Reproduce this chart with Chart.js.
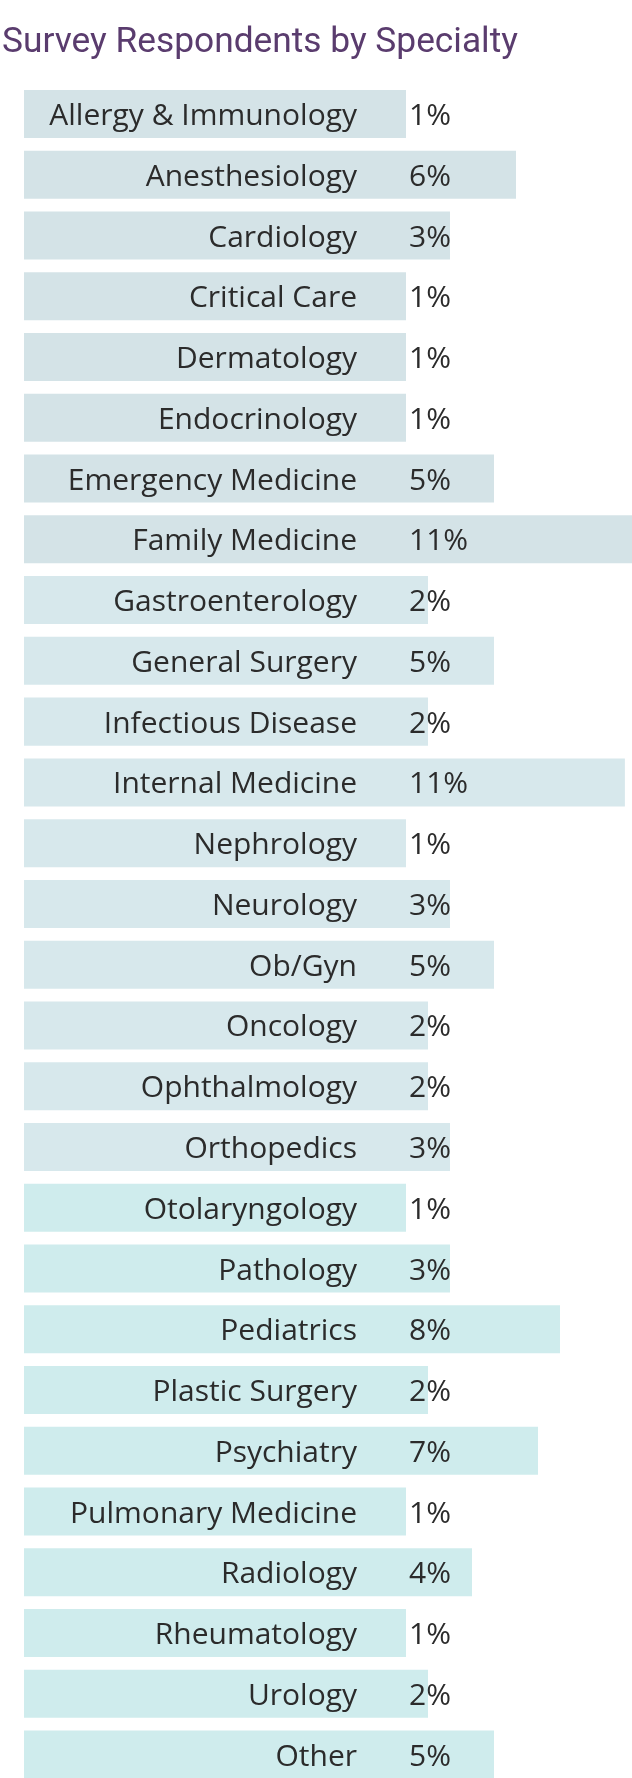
<!DOCTYPE html>
<html>
<head>
<meta charset="utf-8">
<script src="https://cdn.jsdelivr.net/npm/chart.js@4.4.1/dist/chart.umd.min.js"></script>
<style>
  html, body { margin: 0; padding: 0; background: #fff; overflow: hidden; }
  #title {
    position: absolute; left: 2px; top: 19px; margin: 0;
    font-family: Roboto, sans-serif; font-weight: 400; font-size: 35.3px;
    line-height: 1.2; color: #5a3c6e; white-space: nowrap; z-index: 2;
  }
  #wrap { position: absolute; left: 0; top: 0; width: 632px; height: 1785px; }
</style>
</head>
<body>
<h1 id="title">Survey Respondents by Specialty</h1>
<div id="wrap"><canvas id="specialty_chart"></canvas></div>
<script>
const specialties = [
  "Allergy & Immunology", "Anesthesiology", "Cardiology", "Critical Care",
  "Dermatology", "Endocrinology", "Emergency Medicine", "Family Medicine",
  "Gastroenterology", "General Surgery", "Infectious Disease", "Internal Medicine",
  "Nephrology", "Neurology", "Ob/Gyn", "Oncology", "Ophthalmology", "Orthopedics",
  "Otolaryngology", "Pathology", "Pediatrics", "Plastic Surgery", "Psychiatry",
  "Pulmonary Medicine", "Radiology", "Rheumatology", "Urology", "Other"
];
// percent of respondents
const percents = [
  1, 6, 3, 1, 1, 1, 5, 11.4,
  2, 5, 2, 10.95, 1, 3, 5, 2, 2, 3,
  1, 3, 8, 2, 7, 1, 4, 1, 2, 5
];
const barColors = specialties.map((s, i) => i < 8 ? "#d4e3e7" : (i < 18 ? "#d7e8ec" : "#cfeced"));

const labelsPlugin = {
  id: "rowLabels",
  afterDatasetsDraw(chart) {
    const ctx = chart.ctx;
    const x = chart.scales.x;
    const zero = x.getPixelForValue(0);
    const meta = chart.getDatasetMeta(0);
    ctx.save();
    ctx.font = "30px 'Open Sans', Lato, sans-serif";
    ctx.fillStyle = "#2b2b2b";
    ctx.textBaseline = "alphabetic";
    meta.data.forEach((bar, i) => {
      const y = bar.y + 11;
      ctx.textAlign = "right";
      ctx.fillText(specialties[i], zero - 27, y);
      ctx.textAlign = "left";
      ctx.fillText(Math.round(percents[i]) + "%", zero + 25, y);
    });
    ctx.restore();
  }
};

new Chart(document.querySelector("#specialty_chart").getContext("2d"), {
  type: "bar",
  data: {
    labels: specialties,
    datasets: [{
      data: percents,
      backgroundColor: barColors,
      base: -16.364,
      barPercentage: 0.79,
      categoryPercentage: 1
    }]
  },
  options: {
    indexAxis: "y",
    responsive: true,
    maintainAspectRatio: false,
    animation: false,
    layout: { padding: { top: 83.6, left: 24, right: 0, bottom: 0 } },
    plugins: { legend: { display: false }, tooltip: { enabled: false } },
    scales: {
      x: { display: false, min: -16.364, max: 11.273 },
      y: { display: false }
    }
  },
  plugins: [labelsPlugin]
});
</script>
</body>
</html>
